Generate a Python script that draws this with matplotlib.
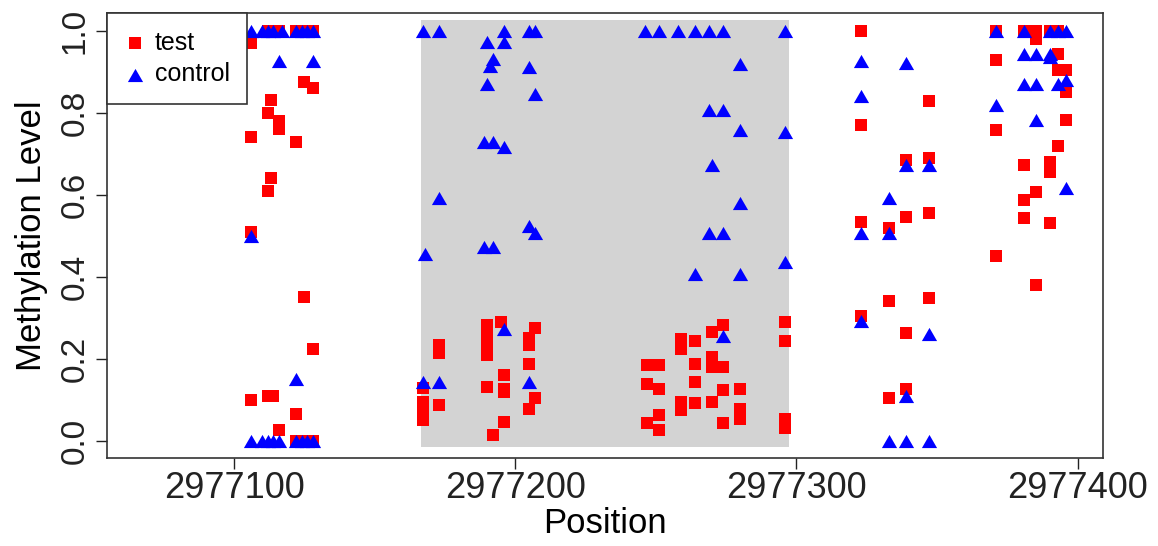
import numpy as np
import matplotlib
matplotlib.use("Agg")
import matplotlib.pyplot as plt

plt.rcParams['font.family'] = ['Liberation Sans', 'DejaVu Sans']

# positions are offsets from this base coordinate
BASE = 2977000

test_pos = [106, 106, 106, 106, 113, 112, 116, 116, 113, 112, 112, 116,
            122, 125, 128, 125, 128, 122, 125, 128, 112, 114, 122, 116,
            122, 125, 128,
            173, 173, 190, 190, 190, 190, 195, 207, 205, 205, 205, 196,
            190, 196, 196, 207, 205, 167, 167, 167, 167, 173, 196, 192,
            296, 296, 274, 270, 259, 264, 259, 247, 251, 270, 270, 274,
            264, 264, 247, 251, 274, 280, 259, 264, 259, 270, 280, 280,
            251, 247, 251, 274, 296, 296,
            323, 347, 323, 339, 347, 339, 347, 323, 333, 333, 347, 323,
            339, 333, 339,
            371, 381, 385, 385, 390, 393, 393, 371, 393, 396, 396, 396,
            371, 393, 381, 390, 390, 385, 381, 381, 390, 371, 385]
test_level = [0.97, 0.74, 0.51, 0.10, 0.83, 0.80, 0.78, 0.76, 0.64, 0.61, 1.0, 1.0,
              1.0, 1.0, 1.0, 0.875, 0.86, 0.73, 0.35, 0.225, 0.11, 0.11, 0.067, 0.027,
              0.0, 0.0, 0.0,
              0.235, 0.215, 0.282, 0.26, 0.235, 0.209, 0.29, 0.275, 0.25, 0.235, 0.189, 0.16,
              0.132, 0.128, 0.12, 0.104, 0.079, 0.13, 0.096, 0.075, 0.051, 0.087, 0.047, 0.015,
              0.29, 0.245, 0.282, 0.266, 0.249, 0.245, 0.225, 0.185, 0.185, 0.205, 0.181, 0.181,
              0.189, 0.144, 0.14, 0.128, 0.124, 0.128, 0.096, 0.092, 0.075, 0.096, 0.079, 0.055,
              0.063, 0.043, 0.027, 0.043, 0.055, 0.031,
              1.0, 0.829, 0.77, 0.685, 0.689, 0.547, 0.555, 0.535, 0.519, 0.341, 0.349, 0.304,
              0.264, 0.106, 0.126,
              1.0, 1.0, 1.0, 0.98, 1.0, 1.0, 0.944, 0.929, 0.905, 0.905, 0.851, 0.782,
              0.757, 0.719, 0.672, 0.681, 0.656, 0.608, 0.588, 0.543, 0.531, 0.45, 0.381]

ctrl_pos = [106, 110, 112, 114, 117, 122, 124, 126, 128, 116, 128, 106, 122,
            106, 110, 112, 114, 116, 122, 124, 126, 128,
            167, 173, 196, 205, 207, 190, 196, 192, 191, 205, 190, 207,
            189, 192, 196, 173, 205, 207, 168, 189, 192, 196, 167, 173, 205,
            246, 251, 258, 264, 269, 274, 296, 280, 269, 274, 280, 296, 270,
            280, 269, 274, 264, 280, 296, 274,
            323, 339, 323, 339, 347, 333, 323, 333, 323, 347, 339, 333, 339, 347,
            371, 381, 390, 393, 396, 381, 385, 390, 390, 381, 385, 393, 396,
            371, 385, 396]
ctrl_level = [1.0, 1.0, 1.0, 1.0, 1.0, 1.0, 1.0, 1.0, 1.0, 0.927, 0.927, 0.50, 0.152,
              0.0, 0.0, 0.0, 0.0, 0.0, 0.0, 0.0, 0.0, 0.0,
              1.0, 1.0, 1.0, 1.0, 1.0, 0.972, 0.972, 0.931, 0.915, 0.911, 0.871, 0.847,
              0.729, 0.729, 0.717, 0.592, 0.523, 0.507, 0.456, 0.472, 0.472, 0.274, 0.144, 0.144, 0.144,
              1.0, 1.0, 1.0, 1.0, 1.0, 1.0, 1.0, 0.919, 0.806, 0.806, 0.757, 0.753, 0.672,
              0.579, 0.507, 0.507, 0.407, 0.407, 0.436, 0.257,
              0.927, 0.921, 0.84, 0.672, 0.672, 0.592, 0.507, 0.507, 0.292, 0.26, 0.11, 0.0, 0.0, 0.0,
              1.0, 1.0, 1.0, 1.0, 1.0, 0.944, 0.944, 0.944, 0.935, 0.871, 0.871, 0.871, 0.88,
              0.818, 0.782, 0.616]

region = [166.4, 297.3]           # shaded region (offsets)
x_ticks = [2977100, 2977200, 2977300, 2977400]
y_ticks = [0.0, 0.2, 0.4, 0.6, 0.8, 1.0]

fig = plt.figure(figsize=(11.58, 5.46), dpi=100)
ax = fig.add_axes([107 / 1158, 1 - 457.5 / 546, 996 / 1158, 444.2 / 546])

ax.fill_between([BASE + region[0], BASE + region[1]], -0.014, 1.026,
                color='#d3d3d3', lw=0, zorder=1)

tri = [(-1, -0.866), (1, -0.866), (0, 0.866)]
ax.scatter(np.array(test_pos) + BASE, test_level, marker='s', s=78,
           color='#ff0000', lw=0, zorder=2, label='test')
ax.scatter(np.array(ctrl_pos) + BASE, ctrl_level, marker=tri, s=120,
           color='#0000ff', lw=0, zorder=3, label='control')

ax.set_xlim(2977054.8, 2977409)
ax.set_ylim(-0.04, 1.0425)
ax.set_xticks(x_ticks, [str(t) for t in x_ticks])
ax.set_yticks(y_ticks, ['%.1f' % t for t in y_ticks])
ax.tick_params(axis='both', direction='out', length=8, width=1, colors='#222222')
ax.tick_params(axis='x', pad=1.5, labelsize=26)
ax.tick_params(axis='y', pad=4, labelsize=24)
for lbl in ax.get_yticklabels():
    lbl.set_rotation(90)
    lbl.set_va('center')

for sp in ax.spines.values():
    sp.set_linewidth(1.2)
    sp.set_color('#333333')

ax.set_xlabel('Position', fontsize=25, labelpad=1)
ax.set_ylabel('Methylation Level', fontsize=25, labelpad=8)

leg = ax.legend(loc='upper left', bbox_to_anchor=(0, 1), borderaxespad=0,
                fancybox=False, framealpha=1, edgecolor='#333333', fontsize=18,
                handletextpad=0.4, borderpad=0.7, labelspacing=0.3,
                handlelength=0.8, scatterpoints=1, markerscale=1.0)
leg.get_frame().set_linewidth(1.2)

fig.savefig('out.png', dpi=100)
